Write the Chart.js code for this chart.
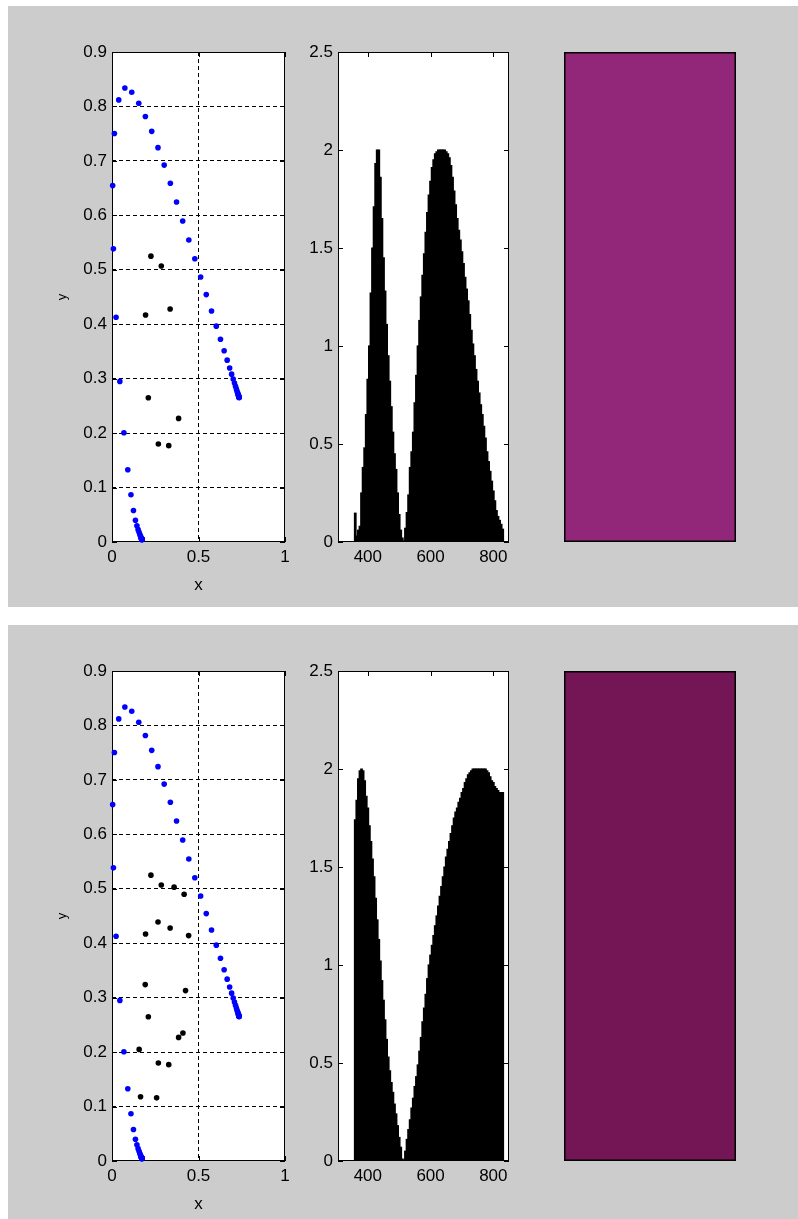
<!DOCTYPE html>
<html><head><meta charset="utf-8">
<script src="https://cdn.jsdelivr.net/npm/chart.js@4/dist/chart.umd.min.js"></script>
<style>
html,body{margin:0;padding:0;background:#fff;width:798px;height:1219px;overflow:hidden;position:relative;}
.panel{position:absolute;left:8px;width:790px;background:#cccccc;}
canvas{position:absolute;}
</style></head><body>
<div class="panel" style="top:6px;height:601px"></div>
<div class="panel" style="top:625px;height:594px"></div>
<script>
// ---- data ----
const locusX = [0.1741,0.1740,0.1738,0.1736,0.1733,0.1730,0.1726,0.1721,0.1714,0.1703,0.1689,0.1669,0.1644,0.1611,0.1566,0.1510,0.1440,0.1355,0.1241,0.1096,0.0913,0.0687,0.0454,0.0235,0.0082,0.0039,0.0139,0.0389,0.0743,0.1142,0.1547,0.1929,0.2296,0.2658,0.3016,0.3373,0.3731,0.4087,0.4441,0.4788,0.5125,0.5448,0.5752,0.6029,0.6270,0.6482,0.6658,0.6801,0.6915,0.7006,0.7079,0.7140,0.7190,0.7230,0.7260,0.7283,0.7300,0.7311,0.7320,0.7327,0.7334,0.7340,0.7344,0.7346,0.7347];
const locusY = [0.0050,0.0050,0.0049,0.0049,0.0048,0.0048,0.0048,0.0048,0.0051,0.0058,0.0069,0.0086,0.0109,0.0138,0.0177,0.0227,0.0297,0.0399,0.0578,0.0868,0.1327,0.2007,0.2950,0.4127,0.5384,0.6548,0.7502,0.8120,0.8338,0.8262,0.8059,0.7816,0.7543,0.7243,0.6923,0.6589,0.6245,0.5896,0.5547,0.5202,0.4866,0.4544,0.4242,0.3965,0.3725,0.3514,0.3340,0.3197,0.3083,0.2993,0.2920,0.2859,0.2809,0.2770,0.2740,0.2717,0.2700,0.2689,0.2680,0.2673,0.2666,0.2660,0.2656,0.2654,0.2653];

const samplesTopX = [0.225,0.285,0.194,0.336,0.210,0.385,0.268,0.328];
const samplesTopY = [0.525,0.507,0.417,0.428,0.265,0.227,0.180,0.177];
const samplesBottomX = [0.225,0.285,0.359,0.417,0.266,0.194,0.336,0.443,0.192,0.425,0.210,0.385,0.410,0.157,0.268,0.328,0.165,0.258];
const samplesBottomY = [0.525,0.507,0.503,0.490,0.439,0.417,0.428,0.414,0.324,0.313,0.265,0.227,0.235,0.205,0.180,0.177,0.118,0.116];

const wavelengths = [360,365,370,375,380,385,390,395,400,405,410,415,420,425,430,435,440,445,450,455,460,465,470,475,480,485,490,495,500,505,510,515,520,525,530,535,540,545,550,555,560,565,570,575,580,585,590,595,600,605,610,615,620,625,630,635,640,645,650,655,660,665,670,675,680,685,690,695,700,705,710,715,720,725,730,735,740,745,750,755,760,765,770,775,780,785,790,795,800,805,810,815,820,825,830];
const spdTop = [0.147,0.03,0.06,0.08,0.25,0.38,0.48,0.65,0.83,1.00,1.27,1.50,1.71,1.93,2.00,2.00,1.86,1.65,1.45,1.28,1.11,0.95,0.82,0.69,0.56,0.45,0.37,0.25,0.14,0.06,0.02,0.005,0.07,0.15,0.24,0.38,0.46,0.56,0.71,0.85,1.00,1.13,1.25,1.36,1.47,1.58,1.68,1.77,1.84,1.91,1.95,1.98,1.99,2.00,2.00,2.00,2.00,2.00,1.99,1.98,1.96,1.92,1.86,1.79,1.72,1.65,1.59,1.54,1.48,1.42,1.35,1.29,1.23,1.16,1.08,1.01,0.95,0.88,0.82,0.76,0.70,0.65,0.59,0.53,0.46,0.41,0.36,0.31,0.26,0.21,0.16,0.13,0.11,0.09,0.065];
const spdBottom = [1.74,1.84,1.95,1.99,2.00,1.99,1.94,1.86,1.80,1.71,1.63,1.54,1.45,1.34,1.23,1.13,1.02,0.92,0.82,0.72,0.62,0.53,0.46,0.40,0.35,0.29,0.24,0.18,0.12,0.07,0.01,0.005,0.05,0.11,0.16,0.21,0.27,0.32,0.38,0.43,0.49,0.56,0.63,0.71,0.78,0.85,0.93,1.00,1.05,1.10,1.15,1.20,1.25,1.30,1.35,1.40,1.45,1.50,1.55,1.59,1.63,1.67,1.71,1.75,1.78,1.80,1.83,1.85,1.88,1.90,1.93,1.95,1.97,1.98,1.99,2.00,2.00,2.00,2.00,2.00,2.00,2.00,2.00,2.00,1.99,1.98,1.96,1.94,1.93,1.91,1.90,1.89,1.88,1.88,1.88];

const patchLabels = ['colour'];
const patchColors = ['#92277A', '#741556'];

const scatterXTicks = [0, 0.5, 1];
const scatterYTicks = [0, 0.1, 0.2, 0.3, 0.4, 0.5, 0.6, 0.7, 0.8, 0.9];
const spdXTicks = [400, 600, 800];
const spdYTicks = [0, 0.5, 1, 1.5, 2, 2.5];

// ---- helpers ----
const FONT = "'Liberation Sans', Arial, sans-serif";
Chart.defaults.font.family = FONT;
Chart.defaults.color = '#000';

function makeCanvas(left, top, w, h) {
  const c = document.createElement('canvas');
  c.width = w; c.height = h;
  c.style.left = left + 'px'; c.style.top = top + 'px';
  c.style.width = w + 'px'; c.style.height = h + 'px';
  document.body.appendChild(c);
  return c;
}

function drawBox(chart, opts) {
  const {ctx, chartArea: a} = chart;
  ctx.save();
  ctx.strokeStyle = '#000';
  ctx.lineWidth = opts.width || 1;
  if (opts.xTicks) {
    const xs = chart.scales.x, ys = chart.scales.y, L = 5;
    ctx.beginPath();
    opts.xTicks.forEach(v => {
      const p = Math.round(xs.getPixelForValue(v)) + 0.5;
      ctx.moveTo(p, a.top); ctx.lineTo(p, a.top + L);
      ctx.moveTo(p, a.bottom); ctx.lineTo(p, a.bottom - L);
    });
    opts.yTicks.forEach(v => {
      const p = Math.round(ys.getPixelForValue(v)) + 0.5;
      ctx.moveTo(a.left, p); ctx.lineTo(a.left + L, p);
      ctx.moveTo(a.right, p); ctx.lineTo(a.right - L, p);
    });
    ctx.stroke();
  }
  const w = ctx.lineWidth;
  ctx.strokeRect(Math.round(a.left) + w / 2, Math.round(a.top) + w / 2,
                 Math.round(a.right - a.left) - w, Math.round(a.bottom - a.top) - w);
  ctx.restore();
}

const boxPlugin = {
  id: 'box',
  beforeDraw(chart, args, opts) {
    if (!opts.white) return;
    const {ctx, chartArea: a} = chart;
    ctx.save();
    ctx.fillStyle = '#ffffff';
    ctx.fillRect(a.left, a.top, a.right - a.left, a.bottom - a.top);
    ctx.restore();
  },
  beforeDatasetsDraw(chart, args, opts) { if (!opts.onTop) drawBox(chart, opts); },
  afterDatasetsDraw(chart, args, opts) { if (opts.onTop) drawBox(chart, opts); }
};

function fix(size) { return s => { if (s.isHorizontal()) s.height = size; else s.width = size; }; }
function innerGrid(lo, hi) {
  return c => (c.tick && (c.tick.value === lo || c.tick.value === hi)) ? 'rgba(0,0,0,0)' : '#000';
}

function scatterChart(offsetY, sx, sy) {
  const c = makeCanvas(20, 30 + offsetY, 280, 570);
  new Chart(c, {
    type: 'scatter',
    data: {
      datasets: [
        { data: locusX.map((x, i) => ({x, y: locusY[i]})), backgroundColor: '#0000ff', borderWidth: 0, pointRadius: 2.8, clip: false },
        { data: sx.map((x, i) => ({x, y: sy[i]})), backgroundColor: '#000000', borderWidth: 0, pointRadius: 2.8, clip: false }
      ]
    },
    plugins: [boxPlugin],
    options: {
      responsive: false, animation: false, devicePixelRatio: 1,
      layout: { padding: { top: 22, right: 15, left: 0, bottom: 0 } },
      plugins: { legend: { display: false }, tooltip: { enabled: false },
                 box: { white: true, xTicks: scatterXTicks, yTicks: scatterYTicks } },
      scales: {
        x: {
          type: 'linear', min: 0, max: 1,
          afterBuildTicks: s => { s.ticks = scatterXTicks.map(v => ({value: v})); },
          afterFit: fix(58),
          grid: { color: innerGrid(0, 1), lineWidth: 1, drawTicks: false },
          border: { display: false, dash: [4, 3] },
          ticks: { padding: 5, font: { size: 17 }, callback: v => String(v), maxRotation: 0 },
          title: { display: true, text: 'x', font: { size: 17 }, padding: { top: 0, bottom: 4 } }
        },
        y: {
          type: 'linear', min: 0, max: 0.9,
          afterBuildTicks: s => { s.ticks = scatterYTicks.map(v => ({value: v})); },
          afterFit: fix(92),
          grid: { color: innerGrid(0, 0.9), lineWidth: 1, drawTicks: false },
          border: { display: false, dash: [4, 3] },
          ticks: { padding: 5, font: { size: 17 }, callback: v => String(v) },
          title: { display: true, text: 'y', font: { size: 13 }, padding: { top: 35, bottom: 0 } }
        }
      }
    }
  });
}

function spdChart(offsetY, values) {
  const c = makeCanvas(295, 30 + offsetY, 225, 570);
  new Chart(c, {
    type: 'bar',
    data: {
      datasets: [{
        data: wavelengths.map((w, i) => ({x: w, y: values[i]})),
        backgroundColor: '#000', borderWidth: 0, inflateAmount: 0.6,
        barPercentage: 1, categoryPercentage: 1
      }]
    },
    plugins: [boxPlugin],
    options: {
      responsive: false, animation: false, devicePixelRatio: 1,
      layout: { padding: { top: 22, right: 11, left: 0, bottom: 0 } },
      plugins: { legend: { display: false }, tooltip: { enabled: false },
                 box: { white: true, xTicks: spdXTicks, yTicks: spdYTicks } },
      scales: {
        x: {
          type: 'linear', min: 305, max: 850, offset: false,
          afterBuildTicks: s => { s.ticks = spdXTicks.map(v => ({value: v})); },
          afterFit: fix(58),
          grid: { display: false, drawTicks: false, offset: false },
          border: { display: false },
          ticks: { padding: 5, font: { size: 17 }, callback: v => String(v), maxRotation: 0 }
        },
        y: {
          type: 'linear', min: 0, max: 2.5,
          afterBuildTicks: s => { s.ticks = spdYTicks.map(v => ({value: v})); },
          afterFit: fix(43),
          grid: { display: false, drawTicks: false },
          border: { display: false },
          ticks: { padding: 5, font: { size: 17 }, callback: v => String(v) }
        }
      }
    }
  });
}

function patchChart(offsetY, colour) {
  const c = makeCanvas(564, 52 + offsetY, 172, 490);
  new Chart(c, {
    type: 'bar',
    data: { labels: patchLabels, datasets: [{ data: [1], backgroundColor: colour, borderWidth: 0, barPercentage: 1, categoryPercentage: 1 }] },
    plugins: [boxPlugin],
    options: {
      responsive: false, animation: false, devicePixelRatio: 1,
      layout: { padding: 0 },
      plugins: { legend: { display: false }, tooltip: { enabled: false }, box: { onTop: true, width: 1.5 } },
      scales: {
        x: { display: false, offset: true },
        y: { display: false, min: 0, max: 1 }
      }
    }
  });
}

scatterChart(0, samplesTopX, samplesTopY);
spdChart(0, spdTop);
patchChart(0, patchColors[0]);
scatterChart(619, samplesBottomX, samplesBottomY);
spdChart(619, spdBottom);
patchChart(619, patchColors[1]);
</script>
</body></html>
